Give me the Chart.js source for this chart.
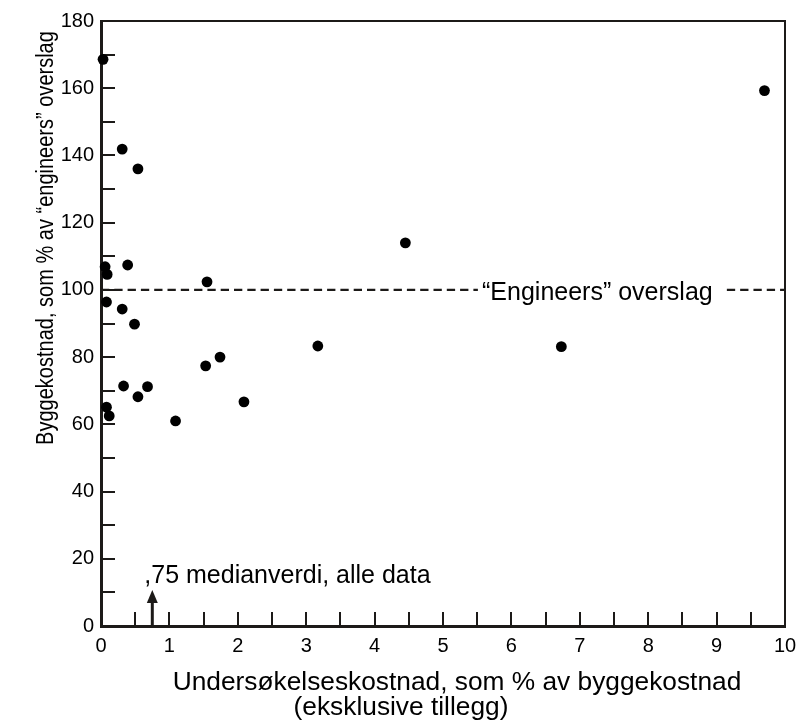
<!DOCTYPE html>
<html><head><meta charset="utf-8">
<script src="https://cdn.jsdelivr.net/npm/chart.js@4/dist/chart.umd.min.js"></script>
<style>html,body{margin:0;padding:0;background:#fff}#wrap{width:798px;height:722px}</style>
</head><body><div id="wrap"><canvas id="c" width="798" height="722"></canvas></div>
<script>
// ---- data ----
const surveyCostPct = [0.03, 0.31, 0.54, 0.06, 0.09, 0.39, 1.55, 0.08, 0.31, 0.49, 1.53, 1.74, 0.33, 0.68, 0.54, 2.09, 0.08, 0.12, 1.09, 4.45, 3.17, 6.73, 9.70];
const buildCostPct  = [168.6, 141.9, 136.0, 106.9, 104.6, 107.4, 102.4, 96.4, 94.3, 89.8, 77.4, 80.0, 71.4, 71.2, 68.2, 66.7, 65.1, 62.5, 61.0, 114.0, 83.3, 83.1, 159.3];
const xTickLabels = ['0','1','2','3','4','5','6','7','8','9','10'];
const yTickLabels = ['0','20','40','60','80','100','120','140','160','180'];
const engineersEstimate = 100;
const engineersGap = [5.51, 9.15];
const medianValue = 0.75;
const medianArrowTop = 10.7;
const xTitle = ['Undersøkelseskostnad, som % av byggekostnad', '(eksklusive tillegg)'];
const yTitle = 'Byggekostnad, som % av “engineers” overslag';
const engineersLabel = '“Engineers” overslag';
const medianLabel = ',75 medianverdi, alle data';

const FONT = "'Liberation Sans', Arial, Helvetica, sans-serif";
const INK = '#1c1a18';

const points = surveyCostPct.map((x, i) => ({x, y: buildCostPct[i]}));

const decor = {
  id: 'decor',
  beforeDatasetsDraw(chart) {
    const {ctx, chartArea: a, scales: {x, y}} = chart;
    ctx.save();
    ctx.strokeStyle = INK;
    ctx.lineWidth = 2;
    // top + right frame
    ctx.beginPath();
    ctx.moveTo(a.left, a.top); ctx.lineTo(a.right, a.top); ctx.lineTo(a.right, a.bottom);
    ctx.stroke();
    // inward tick marks
    ctx.beginPath();
    x.ticks.forEach(t => {
      if (t.value <= x.min || t.value >= x.max) return;
      const px = Math.round(x.getPixelForValue(t.value));
      ctx.moveTo(px, a.bottom); ctx.lineTo(px, a.bottom - 14);
    });
    y.ticks.forEach(t => {
      if (t.value <= y.min || t.value >= y.max) return;
      const py = Math.round(y.getPixelForValue(t.value));
      ctx.moveTo(a.left, py); ctx.lineTo(a.left + 14, py);
    });
    ctx.stroke();
    // median arrow
    const mx = x.getPixelForValue(medianValue);
    const tip = y.getPixelForValue(medianArrowTop);
    ctx.lineWidth = 3;
    ctx.beginPath();
    ctx.moveTo(mx, a.bottom); ctx.lineTo(mx, tip + 10);
    ctx.stroke();
    ctx.fillStyle = INK;
    ctx.beginPath();
    ctx.moveTo(mx, tip); ctx.lineTo(mx - 5.5, tip + 13); ctx.lineTo(mx + 5.5, tip + 13); ctx.closePath();
    ctx.fill();
    ctx.restore();
  },
  afterDatasetsDraw(chart) {
    const {ctx, chartArea: a, scales: {x, y}} = chart;
    ctx.save();
    ctx.fillStyle = '#000';
    // engineers label in the gap of the dashed line
    ctx.font = `25px ${FONT}`;
    ctx.textAlign = 'center';
    ctx.textBaseline = 'alphabetic';
    const gx = (x.getPixelForValue(engineersGap[0]) + x.getPixelForValue(engineersGap[1])) / 2;
    ctx.fillText(engineersLabel, gx - 5, y.getPixelForValue(engineersEstimate) + 10.5);
    // median label
    ctx.textAlign = 'left';
    ctx.fillText(medianLabel, x.getPixelForValue(medianValue) - 8, y.getPixelForValue(medianArrowTop) - 7);
    // x title
    ctx.textAlign = 'center';
    ctx.font = `26.3px ${FONT}`;
    ctx.fillText(xTitle[0], a.left + 356, a.bottom + 64);
    ctx.fillText(xTitle[1], a.left + 300, a.bottom + 89);
    // y title
    ctx.font = `23px ${FONT}`;
    ctx.translate(53, a.top + 217);
    ctx.rotate(-Math.PI / 2);
    ctx.scale(0.87, 1);
    ctx.fillText(yTitle, 0, 0);
    ctx.restore();
  }
};

new Chart(document.getElementById('c'), {
  type: 'scatter',
  data: {
    datasets: [
      {data: points, pointRadius: 5.4, pointHoverRadius: 5.4, pointBackgroundColor: '#000', pointBorderWidth: 0, showLine: false, clip: false, order: 0},
      {type: 'line', data: [{x: 0, y: engineersEstimate}, {x: engineersGap[0], y: engineersEstimate}], borderColor: INK, borderWidth: 2.2, borderDash: [8.3, 5], pointRadius: 0, fill: false, order: 1},
      {type: 'line', data: [{x: engineersGap[1], y: engineersEstimate}, {x: 10, y: engineersEstimate}], borderColor: INK, borderWidth: 2.2, borderDash: [8.3, 5], pointRadius: 0, fill: false, order: 1}
    ]
  },
  options: {
    responsive: false, animation: false, devicePixelRatio: 1,
    layout: {padding: {top: 21, right: 13, left: 0, bottom: 0}},
    plugins: {legend: {display: false}, tooltip: {enabled: false}},
    scales: {
      x: {
        type: 'linear', min: 0, max: 10,
        afterFit: s => { s.height = 96; s.paddingRight = 0; s.paddingLeft = 0; },
        grid: {drawOnChartArea: false, drawTicks: false},
        border: {display: true, color: INK, width: 3},
        ticks: {
          stepSize: 0.5, autoSkip: false, maxRotation: 0, padding: 8,
          color: '#000', font: {size: 20, family: FONT},
          callback: v => (Number.isInteger(v) ? xTickLabels[v] : '')
        }
      },
      y: {
        type: 'linear', min: 0, max: 180,
        afterFit: s => { s.width = 101; s.paddingTop = 0; s.paddingBottom = 0; },
        grid: {drawOnChartArea: false, drawTicks: false},
        border: {display: true, color: INK, width: 3},
        ticks: {
          stepSize: 10, autoSkip: false, padding: 7,
          color: '#000', font: {size: 20, family: FONT},
          callback: v => (v % 20 === 0 ? yTickLabels[v / 20] : '')
        }
      }
    }
  },
  plugins: [decor]
});
</script>
</body></html>
